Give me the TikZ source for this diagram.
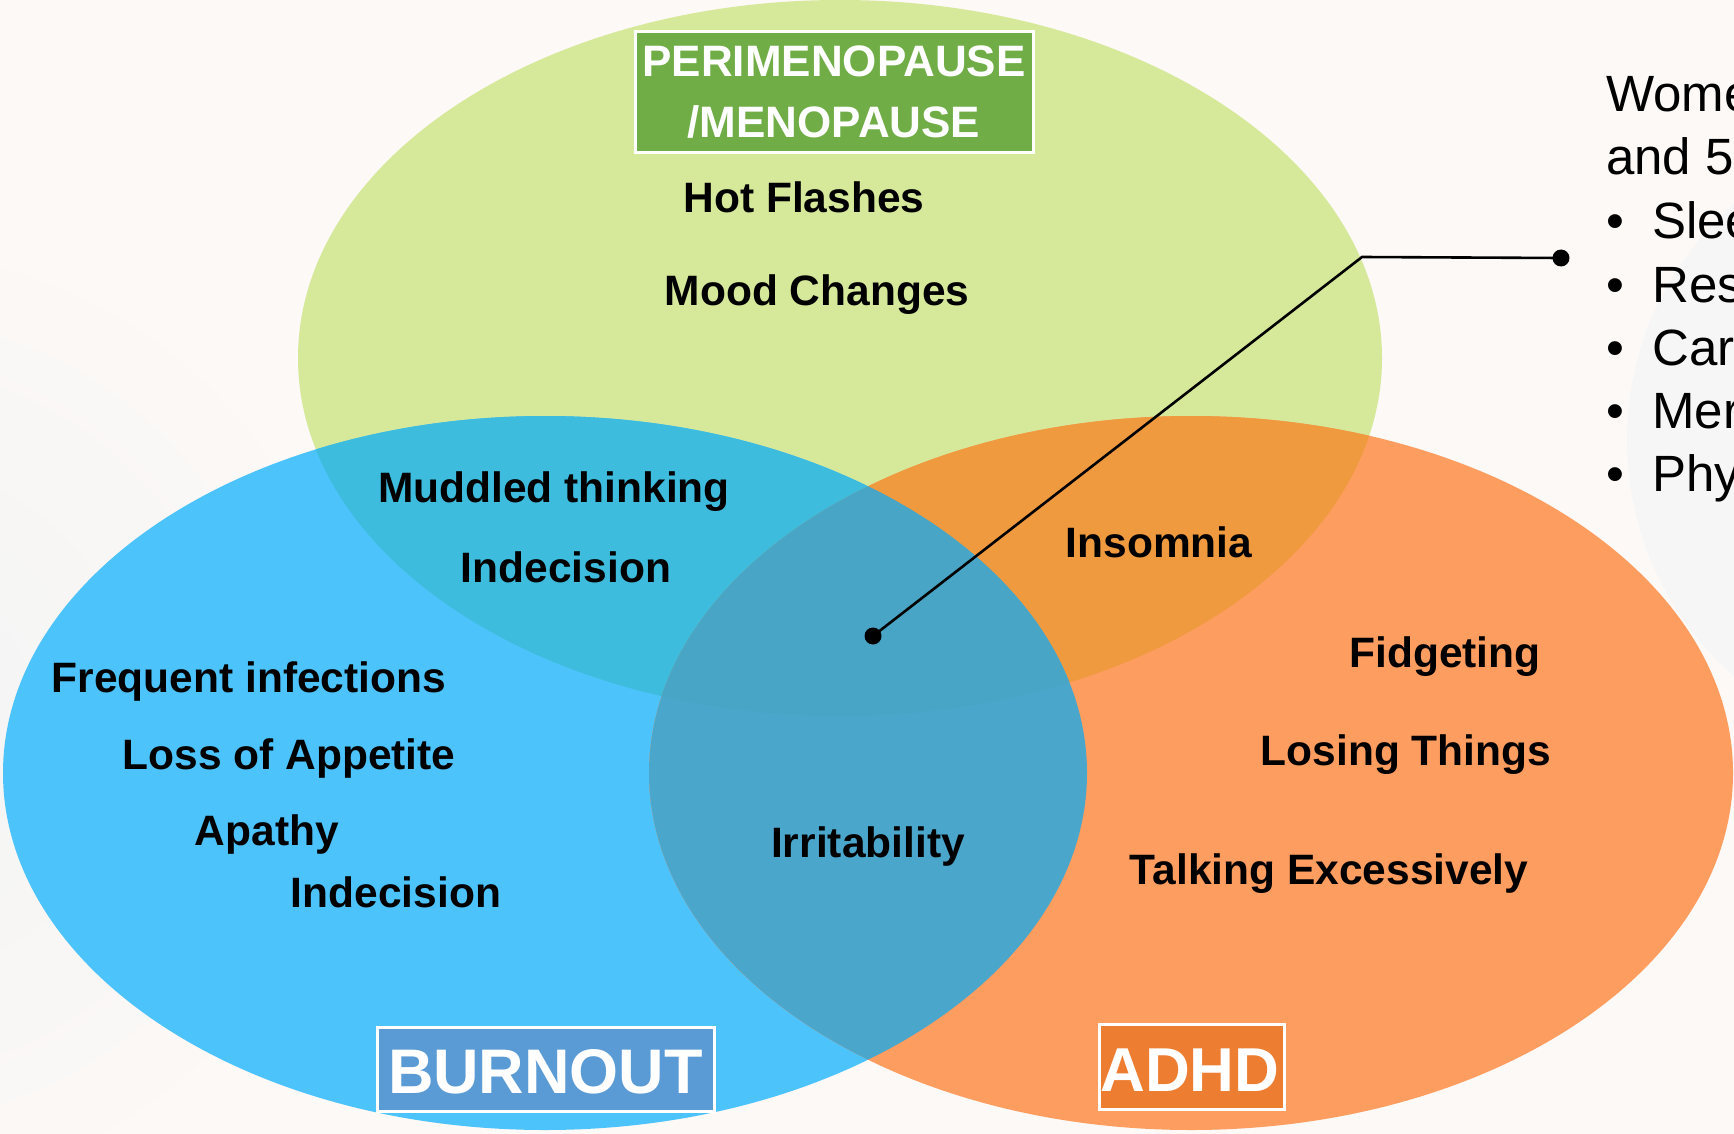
\documentclass[tikz,border=0pt]{standalone}
\usepackage{fontspec}
\setmainfont{Liberation Sans}
\definecolor{bgc}{HTML}{FDF9F6}
\definecolor{greenE}{HTML}{D6E99A}
\definecolor{blueE}{HTML}{4DC3FB}
\definecolor{orangeE}{HTML}{FD9D5F}
\definecolor{gbC}{HTML}{3DBCDD}
\definecolor{goC}{HTML}{EF9A3F}
\definecolor{boC}{HTML}{4BA6CC}
\definecolor{gboC}{HTML}{49A5C6}
\definecolor{greyC}{HTML}{F2F4F5}
\definecolor{greyR}{HTML}{F6F6F7}
\definecolor{periC}{HTML}{70AD47}
\definecolor{burnC}{HTML}{5B9BD5}
\definecolor{adhdC}{HTML}{ED7D31}
\tikzset{
  lbl/.style={font=\bfseries\fontsize{42.5}{50}\selectfont, inner sep=0pt, anchor=base, text=black},
  sidetxt/.style={font=\fontsize{51}{60}\selectfont, inner sep=0pt, anchor=base west, text=black},
  titlebox/.style={draw=white, line width=3pt, inner sep=0pt, text=white},
  dotn/.style={circle, fill=black, inner sep=0pt, minimum size=17pt},
  conn/.style={line width=2.6pt, black}
}
\begin{document}
\begin{tikzpicture}[x=1pt,y=-1pt]
\useasboundingbox (0,0) rectangle (1734,1134);
\clip (0,0) rectangle (1734,1134);
\fill[bgc] (0,0) rectangle (1734,1134);
\shade[inner color=greyC, outer color=bgc] (-120,720) circle (520);
\fill[greyR] (1941,440) circle (314);
% ellipses
\def\GE{(840,358) ellipse [x radius=542, y radius=358]}
\def\BE{(545,773) ellipse [x radius=542, y radius=357]}
\def\OE{(1191,773) ellipse [x radius=542, y radius=357]}
\fill[greenE] \GE;
\fill[blueE] \BE;
\fill[orangeE] \OE;
\begin{scope}\clip \GE; \fill[gbC] \BE; \fill[goC] \OE; \end{scope}
\begin{scope}\clip \BE; \fill[boC] \OE; \end{scope}
\begin{scope}\clip \GE; \clip \BE; \fill[gboC] \OE; \end{scope}
% title boxes
\node[titlebox, fill=periC, minimum width=398pt, minimum height=121pt] (peri) at (834,92.5) {};
\node[font=\bfseries\fontsize{44}{50}\selectfont, text=white, inner sep=0pt, anchor=base] (peri1) at (834,77) {PERIMENOPAUSE};
\node[font=\bfseries\fontsize{44}{50}\selectfont, text=white, inner sep=0pt, anchor=base] (peri2) at (834,138) {/MENOPAUSE};
\node[titlebox, fill=burnC, minimum width=337pt, minimum height=84pt] (burn) at (545.5,1069) {};
\node[font=\bfseries\fontsize{63}{70}\selectfont, text=white, inner sep=0pt, anchor=base] (burnt) at (545.5,1093) {BURNOUT};
\node[titlebox, fill=adhdC, minimum width=185pt, minimum height=85pt] (adhd) at (1191.5,1066.5) {};
\node[font=\bfseries\fontsize{62}{70}\selectfont, text=white, inner sep=0pt, anchor=base] (adhdt) at (1190,1091) {ADHD};
% labels
\node[lbl] (hot) at (804,212) {Hot Flashes};
\node[lbl] (mood) at (817,305) {Mood Changes};
\node[lbl] (mud) at (554,502) {Muddled thinking};
\node[lbl] (ind1) at (566,582) {Indecision};
\node[lbl] (ins) at (1159,557) {Insomnia};
\node[lbl] (freq) at (249,692) {Frequent infections};
\node[lbl] (loss) at (289,769) {Loss of Appetite};
\node[lbl] (apa) at (267,845) {Apathy};
\node[lbl] (ind2) at (396,907) {Indecision};
\node[lbl] (irr) at (868,857) {Irritability};
\node[lbl] (fid) at (1445,667) {Fidgeting};
\node[lbl] (los) at (1406,765) {Losing Things};
\node[lbl] (tal) at (1329,884) {Talking Excessively};
% side text
\node[sidetxt] (s1) at (1606,112) {Wome};
\node[sidetxt] (s2) at (1606,175) {and 5};
\node[sidetxt] (b1) at (1606,238) {•};
\node[sidetxt] (t1) at (1652,238) {Slee};
\node[sidetxt] (b2) at (1606,302) {•};
\node[sidetxt] (t2) at (1652,302) {Res};
\node[sidetxt] (b3) at (1606,365) {•};
\node[sidetxt] (t3) at (1652,365) {Car};
\node[sidetxt] (b4) at (1606,428) {•};
\node[sidetxt] (t4) at (1652,428) {Mer};
\node[sidetxt] (b5) at (1606,491) {•};
\node[sidetxt] (t5) at (1652,491) {Phy};
% connector
\coordinate (elbow) at (1362,257);
\node[dotn] (d1) at (873,636) {};
\node[dotn] (d2) at (1561,258) {};
\draw[conn] (d1.center) -- (elbow) -- (d2.center);
\end{tikzpicture}
\end{document}
